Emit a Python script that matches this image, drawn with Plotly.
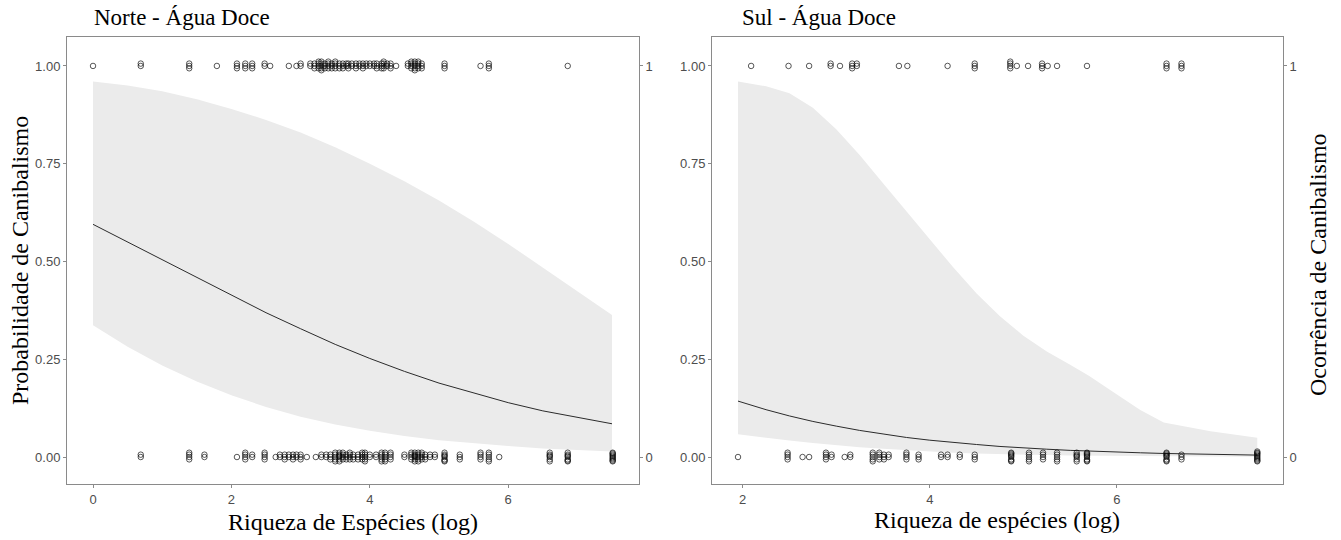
import plotly.graph_objects as go

W, H = 1341, 540

# ---------------- data ----------------
# Norte - Agua Doce : fitted curve and band
norte_x = [0.0, 0.5, 1.0, 1.5, 2.0, 2.5, 3.0, 3.5, 4.0, 4.5, 5.0, 5.5, 6.0, 6.5, 7.0, 7.5]
norte_fit = [0.595, 0.550, 0.504, 0.458, 0.413, 0.369, 0.328, 0.288, 0.252, 0.219, 0.189, 0.163, 0.139, 0.118, 0.101, 0.085]
norte_upper = [0.960, 0.950, 0.935, 0.915, 0.890, 0.862, 0.830, 0.792, 0.750, 0.705, 0.656, 0.602, 0.545, 0.485, 0.424, 0.363]
norte_lower = [0.337, 0.282, 0.234, 0.193, 0.158, 0.128, 0.103, 0.083, 0.067, 0.054, 0.043, 0.035, 0.028, 0.022, 0.018, 0.014]

# Sul - Agua Doce : fitted curve and band
sul_x = [1.95, 2.25, 2.5, 2.75, 3.0, 3.25, 3.5, 3.75, 4.0, 4.25, 4.5, 4.75, 5.0, 5.25, 5.5, 5.7, 6.0, 6.25, 6.5, 7.0, 7.5]
sul_fit = [0.143, 0.121, 0.105, 0.091, 0.079, 0.068, 0.059, 0.050, 0.043, 0.037, 0.032, 0.027, 0.023, 0.020, 0.017,
           0.015, 0.0126, 0.0108, 0.0091, 0.0067, 0.0049]
sul_upper = [0.960, 0.948, 0.930, 0.893, 0.838, 0.772, 0.700, 0.628, 0.555, 0.485, 0.418, 0.360, 0.310, 0.270, 0.236,
             0.208, 0.160, 0.120, 0.088, 0.066, 0.049]
sul_lower = [0.058, 0.049, 0.042, 0.036, 0.030, 0.025, 0.021, 0.017, 0.014, 0.011, 0.009, 0.0075, 0.006, 0.005, 0.004,
             0.0035, 0.0025, 0.002, 0.0015, 0.001, 0.0005]

# observed points: (log richness, number of overlapping observations)
norte_occ1 = [(0.0, 1), (0.69, 2), (1.39, 3), (1.79, 1), (2.08, 3), (2.2, 3), (2.3, 3), (2.48, 2), (2.56, 1),
              (2.83, 1), (2.94, 1), (3.0, 2), (3.14, 2), (3.2, 3), (3.26, 4), (3.3, 5), (3.35, 3), (3.4, 4),
              (3.45, 3), (3.5, 4), (3.56, 3), (3.61, 3), (3.66, 2), (3.69, 3), (3.74, 2), (3.8, 3), (3.85, 2),
              (3.9, 3), (3.95, 2), (4.0, 2), (4.06, 2), (4.1, 3), (4.17, 3), (4.2, 4), (4.25, 2), (4.3, 3),
              (4.38, 1), (4.55, 2), (4.6, 4), (4.65, 5), (4.7, 4), (4.75, 3), (5.08, 3), (5.6, 1), (5.72, 3),
              (6.86, 1)]
norte_occ0 = [(0.69, 2), (1.39, 4), (1.61, 2), (2.08, 1), (2.2, 4), (2.3, 2), (2.48, 4), (2.64, 1), (2.7, 2),
              (2.77, 3), (2.83, 2), (2.89, 3), (2.94, 2), (3.0, 3), (3.09, 1), (3.22, 1), (3.3, 2), (3.37, 2),
              (3.43, 3), (3.5, 5), (3.56, 6), (3.61, 4), (3.66, 3), (3.71, 4), (3.76, 3), (3.83, 3), (3.89, 4),
              (3.93, 5), (4.0, 2), (4.09, 2), (4.17, 5), (4.22, 5), (4.3, 4), (4.5, 2), (4.6, 4), (4.65, 6),
              (4.7, 5), (4.75, 4), (4.8, 3), (4.87, 2), (4.94, 2), (5.08, 7), (5.3, 3), (5.6, 4), (5.72, 5),
              (5.87, 1), (6.6, 6), (6.86, 7), (7.51, 9)]
sul_occ1 = [(2.09, 1), (2.49, 1), (2.71, 1), (2.94, 2), (3.04, 1), (3.17, 3), (3.22, 2), (3.67, 1), (3.76, 1),
            (4.19, 1), (4.48, 3), (4.86, 4), (4.93, 1), (5.05, 1), (5.2, 3), (5.26, 1), (5.36, 1), (5.68, 1),
            (6.53, 3), (6.69, 3)]
sul_occ0 = [(1.95, 1), (2.48, 4), (2.64, 1), (2.71, 1), (2.89, 4), (2.95, 2), (3.09, 1), (3.15, 2), (3.39, 5),
            (3.46, 4), (3.51, 3), (3.56, 2), (3.75, 4), (3.88, 3), (4.12, 2), (4.19, 2), (4.32, 2), (4.48, 3),
            (4.87, 8), (5.06, 5), (5.21, 4), (5.36, 5), (5.57, 6), (5.68, 8), (6.53, 8), (6.69, 3), (7.5, 10)]

# vertical jitter offsets used for overlapping observations
jitter = [0.0, 0.006, -0.006, 0.011, -0.011, 0.003, -0.009, 0.009, -0.003, 0.014]

y_ticks = [0, 0.25, 0.5, 0.75, 1.0]
y_tick_text = ["0.00", "0.25", "0.50", "0.75", "1.00"]
norte_xticks = [0, 2, 4, 6]
sul_xticks = [2, 4, 6]

# ---------------- helpers ----------------
def expand(points, level):
    xs, ys = [], []
    for x, n in points:
        for k in range(n):
            xs.append(x)
            ys.append(level + jitter[k])
    return xs, ys

BAND = "#EBEBEB"
LINE = "#2b2b2b"
PT = dict(symbol="circle-open", size=5.5, color="rgba(0,0,0,0.65)", line=dict(width=1))

fig = go.Figure()

def add_panel(xv, fit, up, lo, occ1, occ0, xa, ya):
    fig.add_trace(go.Scatter(x=xv + xv[::-1], y=up + lo[::-1], fill="toself", fillcolor=BAND,
                             line=dict(width=0), mode="lines", hoverinfo="skip",
                             showlegend=False, xaxis=xa, yaxis=ya))
    fig.add_trace(go.Scatter(x=xv, y=fit, mode="lines", line=dict(color=LINE, width=1),
                             showlegend=False, xaxis=xa, yaxis=ya))
    for pts, lvl in ((occ1, 1.0), (occ0, 0.0)):
        px, py = expand(pts, lvl)
        fig.add_trace(go.Scatter(x=px, y=py, mode="markers", marker=PT, showlegend=False,
                                 xaxis=xa, yaxis=ya))

add_panel(norte_x, norte_fit, norte_upper, norte_lower, norte_occ1, norte_occ0, "x", "y")
add_panel(sul_x, sul_fit, sul_upper, sul_lower, sul_occ1, sul_occ0, "x2", "y2")

# ---------------- layout ----------------
def px_x(p):
    return p / W

def px_y(p):
    return 1 - p / H

ydom = [px_y(484), px_y(37)]
yrange = [-0.069, 1.074]
tickfont = dict(family="Liberation Sans, Arial", size=13, color="#4d4d4d")
common_ax = dict(showgrid=False, zeroline=False, showline=True, mirror=True, linecolor="#8a8a8a",
                 linewidth=1, ticks="outside", ticklen=3, tickcolor="#8a8a8a", tickfont=tickfont)

fig.update_layout(
    width=W, height=H, margin=dict(l=0, r=0, t=0, b=0),
    paper_bgcolor="white", plot_bgcolor="white", showlegend=False,
    xaxis=dict(domain=[px_x(67), px_x(639)], range=[-0.376, 7.89], tickvals=norte_xticks,
               anchor="y", **common_ax),
    yaxis=dict(domain=ydom, range=yrange, tickvals=y_ticks, ticktext=y_tick_text, anchor="x", **common_ax),
    xaxis2=dict(domain=[px_x(712), px_x(1283)], range=[1.672, 7.775], tickvals=sul_xticks,
                anchor="y2", **common_ax),
    yaxis2=dict(domain=ydom, range=yrange, tickvals=y_ticks, ticktext=y_tick_text, anchor="x2", **common_ax),
    yaxis3=dict(overlaying="y", side="right", anchor="x", range=yrange, tickvals=[0, 1], ticktext=["0", "1"],
                showgrid=False, zeroline=False, showline=False, ticks="outside", ticklen=3,
                tickcolor="#8a8a8a", tickfont=tickfont),
    yaxis4=dict(overlaying="y2", side="right", anchor="x2", range=yrange, tickvals=[0, 1], ticktext=["0", "1"],
                showgrid=False, zeroline=False, showline=False, ticks="outside", ticklen=3,
                tickcolor="#8a8a8a", tickfont=tickfont),
)

# dummy traces so right-side axes render
fig.add_trace(go.Scatter(x=[None], y=[None], xaxis="x", yaxis="y3", showlegend=False))
fig.add_trace(go.Scatter(x=[None], y=[None], xaxis="x2", yaxis="y4", showlegend=False))

serif = "Liberation Serif, Times New Roman, serif"
ann = [
    dict(text="Norte - Água Doce", x=px_x(92), y=px_y(18), xanchor="left", yanchor="middle",
         font=dict(family=serif, size=23, color="black")),
    dict(text="Sul - Água Doce", x=px_x(740), y=px_y(18), xanchor="left", yanchor="middle",
         font=dict(family=serif, size=23, color="black")),
    dict(text="Riqueza de Espécies (log)", x=px_x(353), y=px_y(522), xanchor="center", yanchor="middle",
         font=dict(family=serif, size=24, color="black")),
    dict(text="Riqueza de espécies (log)", x=px_x(997), y=px_y(520), xanchor="center", yanchor="middle",
         font=dict(family=serif, size=24, color="black")),
    dict(text="Probabilidade de Canibalismo", x=px_x(20), y=px_y(261), xanchor="center", yanchor="middle",
         textangle=-90, font=dict(family=serif, size=24, color="black")),
    dict(text="Ocorrência de Canibalismo", x=px_x(1318), y=px_y(265), xanchor="center", yanchor="middle",
         textangle=-90, font=dict(family=serif, size=24, color="black")),
]
for a in ann:
    a.update(xref="paper", yref="paper", showarrow=False)
fig.update_layout(annotations=ann)

fig.write_html("out.html", config={"displayModeBar": False},
               post_script="document.body.style.margin='0';document.body.style.overflow='hidden';")
